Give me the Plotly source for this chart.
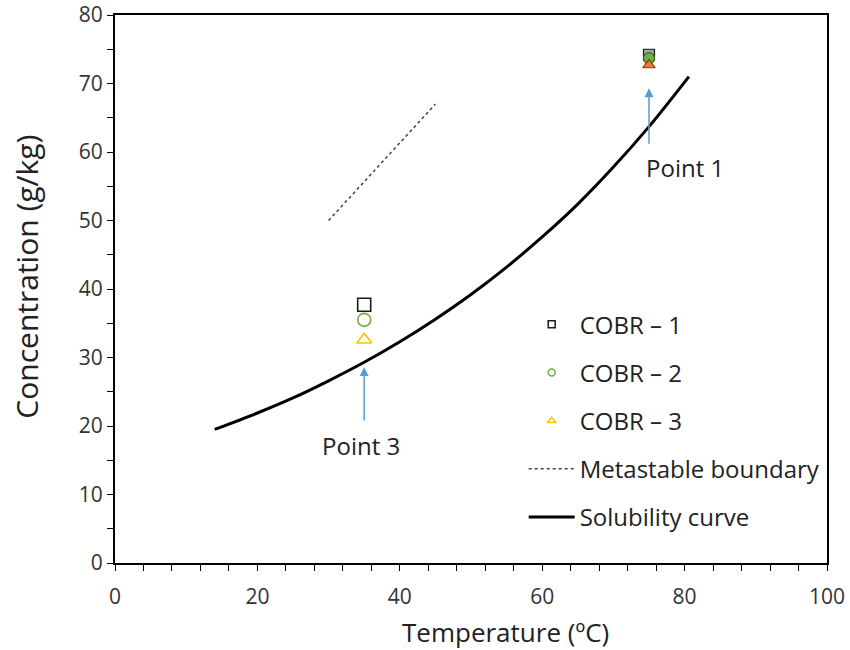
import plotly.graph_objects as go

# Solubility curve
sol_T = [14, 20, 25, 30, 35, 40, 45, 50, 55, 60, 65, 70, 75, 80.6]
sol_C = [19.5, 21.9, 24.1, 26.6, 29.3, 32.3, 35.6, 39.2, 43.2, 47.6, 52.4, 57.8, 63.7, 71.0]

# Metastable boundary
meta_T = [30, 45]
meta_C = [50, 67]

# Experimental points: Point 3 (open) and Point 1 (filled)
p3_T = [35]
p1_T = [75]
cobr1_p3 = [37.7]
cobr2_p3 = [35.5]
cobr3_p3 = [32.6]
cobr1_p1 = [74.2]
cobr2_p1 = [73.7]
cobr3_p1 = [72.7]

series_names = ["COBR – 1", "COBR – 2", "COBR – 3"]
symbols = ["square-open", "circle-open", "triangle-up-open"]
filled_symbols = ["square", "circle", "triangle-up"]
colors = ["#1a1a1a", "#70AD47", "#FFC000"]
fill_colors = ["#A5A5A5", "#70AD47", "#ED7D31"]
fill_lines = ["#1a1a1a", "#3d6b23", "#8a4212"]

FONT = "Open Sans, sans-serif"

fig = go.Figure()

p3_vals = [cobr1_p3, cobr2_p3, cobr3_p3]
p1_vals = [cobr1_p1, cobr2_p1, cobr3_p1]
for i in range(3):
    fig.add_trace(go.Scatter(x=p3_T, y=p3_vals[i], mode="markers", showlegend=False,
                             marker=dict(symbol=symbols[i], size=13, color=colors[i],
                                         line=dict(width=1.6, color=colors[i]))))
    fig.add_trace(go.Scatter(x=p1_T, y=p1_vals[i], mode="markers", showlegend=False,
                             marker=dict(symbol=filled_symbols[i], size=11, color=fill_colors[i],
                                         line=dict(width=1.2, color=fill_lines[i]))))

# legend entries
for i in range(3):
    fig.add_trace(go.Scatter(x=[None], y=[None], mode="markers", name=series_names[i],
                             legendgroup=f"g{i}",
                             marker=dict(symbol=symbols[i], size=7, color=colors[i],
                                         line=dict(width=1.5, color=colors[i]))))

fig.add_trace(go.Scatter(x=meta_T, y=meta_C, mode="lines", name="Metastable boundary",
                         legendgroup="g3",
                         line=dict(color="#404040", width=1.5, dash="3px,3px")))
fig.add_trace(go.Scatter(x=sol_T, y=sol_C, mode="lines", name="Solubility curve",
                         legendgroup="g4", line=dict(color="black", width=3, shape="spline")))

# arrows and labels
arrow_col = "#5B9BD5"
fig.add_annotation(x=75, y=69.3, ax=75, ay=61, xref="x", yref="y", axref="x", ayref="y",
                   showarrow=True, arrowhead=2, arrowsize=1.2, arrowwidth=1.5, arrowcolor=arrow_col, text="")
fig.add_annotation(x=35, y=28.6, ax=35, ay=20.6, xref="x", yref="y", axref="x", ayref="y",
                   showarrow=True, arrowhead=2, arrowsize=1.2, arrowwidth=1.5, arrowcolor=arrow_col, text="")
fig.add_annotation(x=80, y=57.8, xref="x", yref="y", text="Point 1", showarrow=False,
                   font=dict(family=FONT, size=24, color="#222222"))
fig.add_annotation(x=34.6, y=17.2, xref="x", yref="y", text="Point 3", showarrow=False,
                   font=dict(family=FONT, size=24, color="#222222"))

# axis titles (as annotations, positioned like the original)
fig.add_annotation(x=0.548, y=-0.126, xref="paper", yref="paper", text="Temperature (ºC)",
                   showarrow=False, xanchor="center", yanchor="middle",
                   font=dict(family=FONT, size=26, color="#222222"))
fig.add_annotation(x=-0.124, y=0.522, xref="paper", yref="paper", text="Concentration (g/kg)",
                   showarrow=False, xanchor="center", yanchor="middle", textangle=-90,
                   font=dict(family=FONT, size=30, color="#222222"))

axis_common = dict(showline=True, linecolor="black", linewidth=2, mirror=True, showgrid=False,
                   zeroline=False, ticks="outside", ticklen=6, tickwidth=1, tickcolor="black",
                   automargin=False,
                   tickfont=dict(family=FONT, size=21, color="#333333"))

fig.update_xaxes(range=[0, 100], dtick=20, tick0=0, ticklabelstandoff=8,
                 minor=dict(dtick=4, ticks="outside", ticklen=6, tickcolor="black", tickwidth=1),
                 **axis_common)
fig.update_yaxes(range=[0, 80], dtick=10, tick0=0,
                 minor=dict(dtick=5, ticks="outside", ticklen=6, tickcolor="black", tickwidth=1),
                 **axis_common)

fig.update_layout(
    width=850, height=650,
    margin=dict(l=115, r=23, t=15, b=87),
    plot_bgcolor="white", paper_bgcolor="white",
    legend=dict(x=0.574, y=0.476, xanchor="left", yanchor="top", bgcolor="rgba(0,0,0,0)",
                font=dict(family=FONT, size=24, color="#222222"), tracegroupgap=14,
                traceorder="grouped", itemwidth=46),
)

fig.write_html("out.html", config={"displayModeBar": False},
               post_script="document.body.style.margin='0';")
